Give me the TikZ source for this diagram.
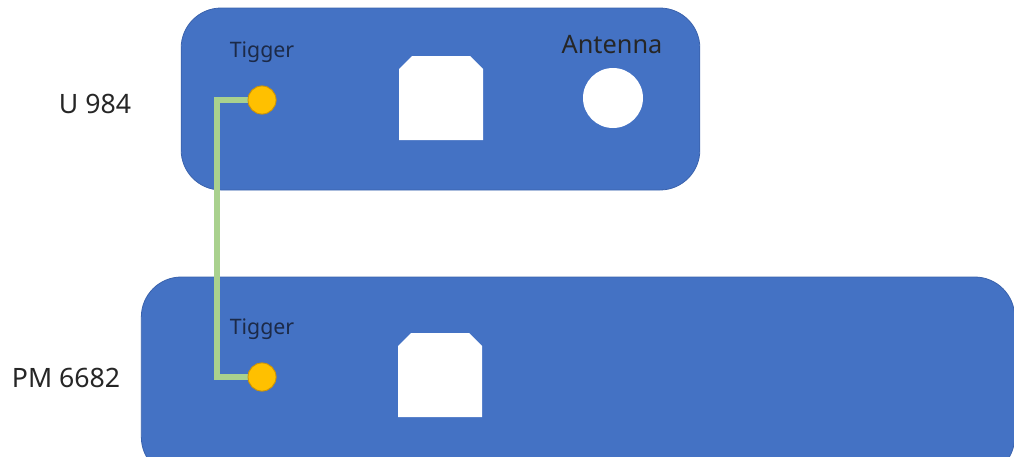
\documentclass[tikz,border=0pt]{standalone}
\usepackage{fontspec}
\setmainfont{Noto Sans}
\definecolor{boxblue}{HTML}{4472C4}
\definecolor{boxedge}{HTML}{3A62AC}
\definecolor{pin}{HTML}{FFC000}
\definecolor{pinedge}{HTML}{C9920A}
\definecolor{wire}{HTML}{A9D18E}
\definecolor{tigtext}{HTML}{1C2A48}
\begin{document}
\begin{tikzpicture}[x=0.75pt,y=-0.75pt,
  panel/.style={draw=boxedge,line width=0.6pt,fill=boxblue,rounded corners=30pt,inner sep=0pt},
  pinnode/.style={circle,fill=pin,draw=pinedge,line width=0.6pt,minimum size=21pt,inner sep=0pt},
  port/.style={fill=white,draw=none},
  lbl/.style={font=\fontsize{20}{24}\selectfont,text=black!85},
  tiglbl/.style={font=\fontsize{16}{19}\selectfont,text=tigtext}]
\useasboundingbox (0,0) rectangle (1014,457);
\clip (0,0) rectangle (1014,457);
% panels
\node[panel,minimum width=389pt,minimum height=136.5pt] (u984) at (440.5,99) {};
\node[panel,minimum width=655pt,minimum height=150pt] (pm) at (578,377) {};
% side labels
\node[lbl] (ulbl) at (95,104) {U 984};
\node[lbl] (pmlbl) at (66,378) {PM 6682};
% trigger pins
\node[pinnode] (t1) at (262,100) {};
\node[pinnode] (t2) at (262,377) {};
\node[tiglbl] (t1l) at (262,52) {Tigger};
\node[tiglbl] (t2l) at (262,329) {Tigger};
% ports
\fill[port] (399,140) -- (399,69) -- (412,56) -- (470,56) -- (483,69) -- (483,140) -- cycle;
\fill[port] (398,417) -- (398,346) -- (411,333) -- (469,333) -- (482,346) -- (482,417) -- cycle;
% antenna
\node[circle,fill=white,minimum size=45pt,inner sep=0pt] (ant) at (613,98) {};
\node[font=\fontsize{19}{23}\selectfont,text=black!85] (antl) at (612,45) {Antenna};
% wire
\coordinate (c1) at (217,100);
\coordinate (c2) at (217,377);
\draw[wire,line width=4.5pt] (t1.west) -- (c1) -- (c2) -- (t2.west);
\node[pinnode] at (t1) {};
\node[pinnode] at (t2) {};
\end{tikzpicture}
\end{document}
